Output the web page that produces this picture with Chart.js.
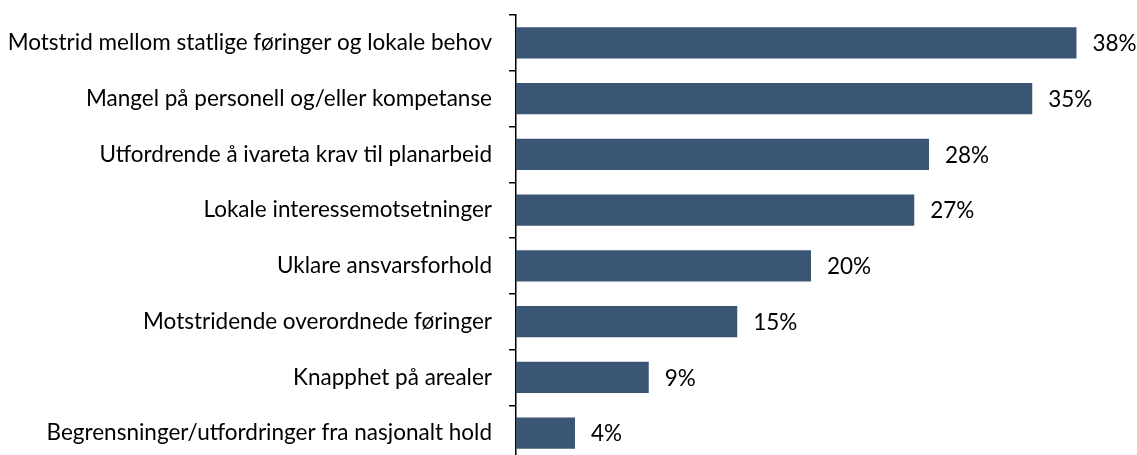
<!DOCTYPE html>
<html>
<head>
<meta charset="utf-8">
<script src="https://cdn.jsdelivr.net/npm/chart.js@4/dist/chart.umd.min.js"></script>
<style>
  html, body { margin: 0; padding: 0; background: #fff; overflow: hidden; }
  canvas { display: block; }
</style>
</head>
<body>
<canvas id="chart" width="1137" height="461"></canvas>
<script>
// Kategorier og verdier (prosent)
const kategorier = [
    'Motstrid mellom statlige føringer og lokale behov',
    'Mangel på personell og/eller kompetanse',
    'Utfordrende å ivareta krav til planarbeid',
    'Lokale interessemotsetninger',
    'Uklare ansvarsforhold',
    'Motstridende overordnede føringer',
    'Knapphet på arealer',
    'Begrensninger/utfordringer fra nasjonalt hold'
];
const verdier = [38, 35, 28, 27, 20, 15, 9, 4];

const fontFamily = 'Lato, "Open Sans", sans-serif';
const fontSize = 22.5;

// Plugin som skriver prosentverdien til høyre for hver stolpe
const verdiEtiketter = {
    id: 'verdiEtiketter',
    afterDatasetsDraw(chart) {
        const ctx = chart.ctx;
        const meta = chart.getDatasetMeta(0);
        ctx.save();
        ctx.font = fontSize + 'px ' + fontFamily;
        ctx.fillStyle = '#000';
        ctx.textAlign = 'left';
        ctx.textBaseline = 'middle';
        meta.data.forEach((bar, i) => {
            ctx.fillText(verdier[i] + '%', bar.x + 16, bar.y + 1);
        });
        ctx.restore();
    }
};

const ctx = document.getElementById('chart').getContext('2d');
new Chart(ctx, {
    type: 'bar',
    data: {
        labels: kategorier,
        datasets: [{
            data: verdier,
            backgroundColor: '#3b5674',
            borderWidth: 0,
            categoryPercentage: 1,
            barPercentage: 0.56
        }]
    },
    options: {
        indexAxis: 'y',
        responsive: false,
        animation: false,
        layout: { padding: { top: 15, right: 31, bottom: 0, left: 0 } },
        plugins: {
            legend: { display: false },
            tooltip: { enabled: false }
        },
        scales: {
            x: {
                display: false,
                min: 0,
                max: 40
            },
            y: {
                afterFit(scale) {
                    scale.width = 516;
                    scale.paddingTop = 0;
                    scale.paddingBottom = 0;
                },
                border: { display: true, color: '#000', width: 1.5 },
                grid: {
                    offset: true,
                    drawOnChartArea: false,
                    drawTicks: true,
                    tickLength: 7,
                    color: '#000',
                    lineWidth: 1.5
                },
                ticks: {
                    padding: 17,
                    color: '#000',
                    autoSkip: false,
                    font: { size: fontSize, family: fontFamily }
                }
            }
        }
    },
    plugins: [verdiEtiketter]
});
</script>
</body>
</html>
